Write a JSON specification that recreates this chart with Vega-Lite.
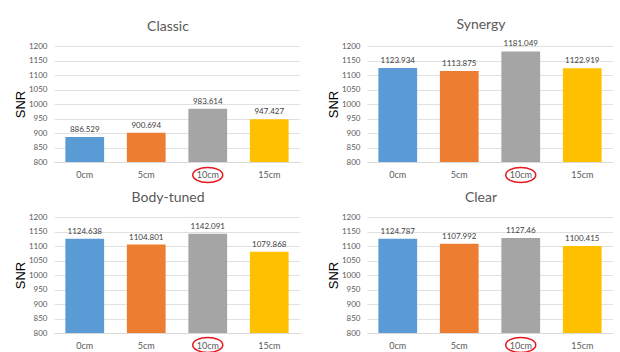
{
  "$schema": "https://vega.github.io/schema/vega-lite/v6.json",
  "background": "white",
  "padding": {"left": 14, "top": 18, "right": 0, "bottom": 0},
  "data": {"values": [
    {"panel": "Classic", "dist": "0cm", "snr": 886.529},
    {"panel": "Classic", "dist": "5cm", "snr": 900.694},
    {"panel": "Classic", "dist": "10cm", "snr": 983.614},
    {"panel": "Classic", "dist": "15cm", "snr": 947.427},
    {"panel": "Synergy", "dist": "0cm", "snr": 1123.934},
    {"panel": "Synergy", "dist": "5cm", "snr": 1113.875},
    {"panel": "Synergy", "dist": "10cm", "snr": 1181.049},
    {"panel": "Synergy", "dist": "15cm", "snr": 1122.919},
    {"panel": "Body-tuned", "dist": "0cm", "snr": 1124.638},
    {"panel": "Body-tuned", "dist": "5cm", "snr": 1104.801},
    {"panel": "Body-tuned", "dist": "10cm", "snr": 1142.091},
    {"panel": "Body-tuned", "dist": "15cm", "snr": 1079.868},
    {"panel": "Clear", "dist": "0cm", "snr": 1124.787},
    {"panel": "Clear", "dist": "5cm", "snr": 1107.992},
    {"panel": "Clear", "dist": "10cm", "snr": 1127.46},
    {"panel": "Clear", "dist": "15cm", "snr": 1100.415}
  ]},
  "columns": 2,
  "bounds": "flush",
  "spacing": {"column": 67, "row": 55},
  "concat": [
    {
      "title": {"text": "Classic"},
      "width": 246, "height": 116,
      "transform": [{"filter": "datum.panel === 'Classic'"}],
      "encoding": {
        "x": {"field": "dist", "type": "nominal", "sort": ["0cm", "5cm", "10cm", "15cm"], "scale": {"paddingInner": 0.37, "paddingOuter": 0.185}},
        "y": {"field": "snr", "type": "quantitative", "title": "SNR", "scale": {"domain": [800, 1200]}, "axis": {"values": [800, 850, 900, 950, 1000, 1050, 1100, 1150, 1200], "format": "d", "labelOverlap": false}}
      },
      "layer": [
        {"mark": {"type": "bar"}, "encoding": {"y2": {"datum": 800}, "color": {"field": "dist", "type": "nominal", "scale": {"domain": ["0cm", "5cm", "10cm", "15cm"], "range": ["#5B9BD5", "#ED7D31", "#A5A5A5", "#FFC000"]}, "legend": null}}},
        {"mark": {"type": "text", "baseline": "bottom", "dy": -3, "font": "Lato", "fontSize": 8, "color": "#404040"}, "encoding": {"text": {"field": "snr", "type": "nominal"}}},
        {"transform": [{"filter": "datum.dist === '10cm'"}], "mark": {"type": "point", "shape": "M -1 0 A 1 0.5 0 1 1 1 0 A 1 0.5 0 1 1 -1 0 Z", "size": 900, "filled": false, "color": "#E8161B", "strokeWidth": 1.5, "opacity": 1, "yOffset": 13}, "encoding": {"y": {"datum": 800, "type": "quantitative"}}}
      ]
    },
    {
      "title": {"text": "Synergy"},
      "width": 246, "height": 116,
      "transform": [{"filter": "datum.panel === 'Synergy'"}],
      "encoding": {
        "x": {"field": "dist", "type": "nominal", "sort": ["0cm", "5cm", "10cm", "15cm"], "scale": {"paddingInner": 0.37, "paddingOuter": 0.185}},
        "y": {"field": "snr", "type": "quantitative", "title": "SNR", "scale": {"domain": [800, 1200]}, "axis": {"values": [800, 850, 900, 950, 1000, 1050, 1100, 1150, 1200], "format": "d", "labelOverlap": false}}
      },
      "layer": [
        {"mark": {"type": "bar"}, "encoding": {"y2": {"datum": 800}, "color": {"field": "dist", "type": "nominal", "scale": {"domain": ["0cm", "5cm", "10cm", "15cm"], "range": ["#5B9BD5", "#ED7D31", "#A5A5A5", "#FFC000"]}, "legend": null}}},
        {"mark": {"type": "text", "baseline": "bottom", "dy": -3, "font": "Lato", "fontSize": 8, "color": "#404040"}, "encoding": {"text": {"field": "snr", "type": "nominal"}}},
        {"transform": [{"filter": "datum.dist === '10cm'"}], "mark": {"type": "point", "shape": "M -1 0 A 1 0.5 0 1 1 1 0 A 1 0.5 0 1 1 -1 0 Z", "size": 900, "filled": false, "color": "#E8161B", "strokeWidth": 1.5, "opacity": 1, "yOffset": 13}, "encoding": {"y": {"datum": 800, "type": "quantitative"}}}
      ]
    },
    {
      "title": {"text": "Body-tuned"},
      "width": 246, "height": 116,
      "transform": [{"filter": "datum.panel === 'Body-tuned'"}],
      "encoding": {
        "x": {"field": "dist", "type": "nominal", "sort": ["0cm", "5cm", "10cm", "15cm"], "scale": {"paddingInner": 0.37, "paddingOuter": 0.185}},
        "y": {"field": "snr", "type": "quantitative", "title": "SNR", "scale": {"domain": [800, 1200]}, "axis": {"values": [800, 850, 900, 950, 1000, 1050, 1100, 1150, 1200], "format": "d", "labelOverlap": false}}
      },
      "layer": [
        {"mark": {"type": "bar"}, "encoding": {"y2": {"datum": 800}, "color": {"field": "dist", "type": "nominal", "scale": {"domain": ["0cm", "5cm", "10cm", "15cm"], "range": ["#5B9BD5", "#ED7D31", "#A5A5A5", "#FFC000"]}, "legend": null}}},
        {"mark": {"type": "text", "baseline": "bottom", "dy": -3, "font": "Lato", "fontSize": 8, "color": "#404040"}, "encoding": {"text": {"field": "snr", "type": "nominal"}}},
        {"transform": [{"filter": "datum.dist === '10cm'"}], "mark": {"type": "point", "shape": "M -1 0 A 1 0.5 0 1 1 1 0 A 1 0.5 0 1 1 -1 0 Z", "size": 900, "filled": false, "color": "#E8161B", "strokeWidth": 1.5, "opacity": 1, "yOffset": 12}, "encoding": {"y": {"datum": 800, "type": "quantitative"}}}
      ]
    },
    {
      "title": {"text": "Clear"},
      "width": 246, "height": 116,
      "transform": [{"filter": "datum.panel === 'Clear'"}],
      "encoding": {
        "x": {"field": "dist", "type": "nominal", "sort": ["0cm", "5cm", "10cm", "15cm"], "scale": {"paddingInner": 0.37, "paddingOuter": 0.185}},
        "y": {"field": "snr", "type": "quantitative", "title": "SNR", "scale": {"domain": [800, 1200]}, "axis": {"values": [800, 850, 900, 950, 1000, 1050, 1100, 1150, 1200], "format": "d", "labelOverlap": false}}
      },
      "layer": [
        {"mark": {"type": "bar"}, "encoding": {"y2": {"datum": 800}, "color": {"field": "dist", "type": "nominal", "scale": {"domain": ["0cm", "5cm", "10cm", "15cm"], "range": ["#5B9BD5", "#ED7D31", "#A5A5A5", "#FFC000"]}, "legend": null}}},
        {"mark": {"type": "text", "baseline": "bottom", "dy": -3, "font": "Lato", "fontSize": 8, "color": "#404040"}, "encoding": {"text": {"field": "snr", "type": "nominal"}}},
        {"transform": [{"filter": "datum.dist === '10cm'"}], "mark": {"type": "point", "shape": "M -1 0 A 1 0.5 0 1 1 1 0 A 1 0.5 0 1 1 -1 0 Z", "size": 900, "filled": false, "color": "#E8161B", "strokeWidth": 1.5, "opacity": 1, "yOffset": 12}, "encoding": {"y": {"datum": 800, "type": "quantitative"}}}
      ]
    }
  ],
  "config": {
    "view": {"stroke": null},
    "title": {"font": "Lato", "fontSize": 14, "fontWeight": "normal", "color": "#595959", "anchor": "middle", "offset": 8, "dx": -9},
    "axisY": {"domain": false, "ticks": false, "grid": true, "gridColor": "#D9D9D9", "gridWidth": 0.8, "labelColor": "#595959", "labelFont": "Lato", "labelFontSize": 8, "labelPadding": 7, "titleFont": "Liberation Sans", "titleFontSize": 13, "titleFontWeight": "normal", "titleColor": "#000000", "titlePadding": 1},
    "axisX": {"domain": true, "domainColor": "#D9D9D9", "ticks": false, "grid": false, "labelAngle": 0, "labelColor": "#595959", "labelFont": "Lato", "labelFontSize": 9, "labelPadding": 8, "title": null}
  }
}
